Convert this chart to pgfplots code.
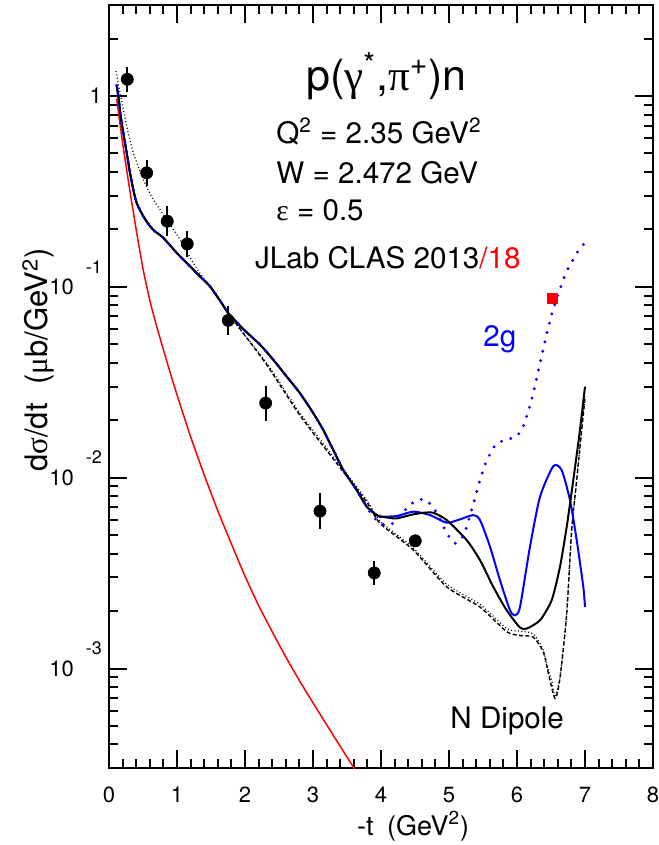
\documentclass[border=0pt]{standalone}
\usepackage{fontspec}
\setmainfont{TeX Gyre Heros}
\newfontfamily\gr{Liberation Serif}
\usepackage{pgfplots}
\pgfplotsset{compat=1.18}
\newcommand{\ex}[1]{10\hspace{6pt}\smash{\raisebox{10.7pt}{\fontsize{9}{9}\selectfont #1}}}
\newcommand{\fs}[1]{\fontsize{#1}{#1}\selectfont}

\pgfplotstableread{
x y
0.113 1.138
0.137 1.0
0.172 0.785
0.21 0.643
0.26 0.505
0.309 0.396
0.357 0.324
0.407 0.2754
0.504 0.2344
0.603 0.208
0.676 0.1954
0.799 0.1807
0.996 0.1507
1.143 0.1334
1.338 0.1135
1.485 0.1007
1.657 0.0822
1.754 0.0729
1.975 0.0601
2.221 0.0498
2.416 0.0415
2.613 0.0339
2.809 0.0277
3.004 0.0218
3.151 0.01778
3.299 0.01397
3.446 0.01096
3.643 0.00861
3.79 0.00705
3.937 0.00637
4.084 0.00619
4.231 0.00612
4.45 0.0064
4.622 0.00655
4.769 0.00655
4.966 0.0060
5.26 0.00471
5.456 0.0037
5.651 0.00268
5.848 0.00202
6.044 0.00164
6.143 0.00162
6.338 0.00179
6.51 0.00228
6.632 0.00341
6.731 0.00553
6.828 0.00973
6.926 0.01778
7.0 0.0300
}\solid

\pgfplotstableread{
x y
0.113 1.138
0.137 1.0
0.172 0.785
0.21 0.643
0.26 0.505
0.309 0.396
0.357 0.324
0.407 0.2754
0.504 0.2344
0.603 0.208
0.676 0.1954
0.799 0.1807
0.996 0.1507
1.143 0.1334
1.338 0.1135
1.485 0.1007
1.657 0.0822
1.754 0.0729
1.975 0.0601
2.221 0.0498
2.416 0.0415
2.613 0.0339
2.809 0.0277
3.004 0.0218
3.151 0.01778
3.299 0.01397
3.446 0.01096
3.643 0.00861
3.79 0.00705
3.937 0.00637
3.985 0.00624
4.231 0.0063
4.475 0.00664
4.721 0.00637
4.966 0.00581
5.162 0.00605
5.357 0.00637
5.456 0.0060
5.603 0.00435
5.75 0.0029
5.897 0.00202
5.971 0.0019
6.044 0.0021
6.191 0.00435
6.338 0.00794
6.534 0.0115
6.657 0.01096
6.779 0.00764
6.878 0.00471
6.975 0.00268
7.0 0.0021
}\bluesolid

\pgfplotstableread{
x y
0.113 1.138
0.137 1.0
0.172 0.785
0.21 0.643
0.26 0.505
0.309 0.396
0.357 0.324
0.407 0.2754
0.504 0.2344
0.603 0.208
0.676 0.1954
0.799 0.1807
0.996 0.1507
1.143 0.1334
1.338 0.1135
1.485 0.1007
1.657 0.0822
1.754 0.0729
1.975 0.0601
2.221 0.0498
2.416 0.0415
2.613 0.0339
2.809 0.0277
3.004 0.0218
3.151 0.01778
3.299 0.01397
3.446 0.01096
3.643 0.00861
3.79 0.00705
3.887 0.00624
4.01 0.00571
4.157 0.00571
4.269 0.00624
4.378 0.0069
4.49 0.00748
4.637 0.00771
4.76 0.00705
4.843 0.0063
4.916 0.00557
4.99 0.00497
5.093 0.00453
5.201 0.0049
5.26 0.00553
5.349 0.0071
5.437 0.00923
5.534 0.0118
5.603 0.0133
5.691 0.01496
5.824 0.01578
5.985 0.0164
6.078 0.01803
6.132 0.0204
6.225 0.02642
6.294 0.0339
6.368 0.0441
6.437 0.0568
6.519 0.0735
6.618 0.0944
6.731 0.1205
6.887 0.1517
6.985 0.168
}\bluedot

\pgfplotstableread{
x y
0.103 1.352
0.162 1.042
0.26 0.697
0.357 0.505
0.504 0.3656
0.651 0.287
0.849 0.2254
1.044 0.177
1.24 0.1334
1.437 0.1047
1.632 0.0857
1.779 0.070
2.319 0.0399
2.809 0.0218
3.299 0.0129
3.79 0.00764
3.985 0.00593
4.475 0.00428
4.966 0.00277
5.456 0.00217
5.848 0.00162
6.044 0.00157
6.24 0.00152
6.387 0.00125
6.46 0.00098
6.51 0.000867
6.559 0.000723
6.632 0.000902
6.731 0.00194
6.804 0.00531
6.878 0.00973
6.951 0.01778
7.0 0.0266
}\blackdot

\pgfplotstableread{
x y
0.113 1.138
0.137 1.0
0.172 0.785
0.21 0.643
0.26 0.505
0.309 0.396
0.357 0.324
0.407 0.2754
0.504 0.2344
0.603 0.208
0.676 0.1954
0.799 0.1807
0.996 0.1507
1.143 0.1334
1.338 0.1135
1.485 0.1007
1.657 0.0822
1.754 0.0729
1.975 0.0571
2.319 0.0391
2.809 0.0212
3.299 0.01253
3.79 0.00745
3.985 0.00577
4.475 0.00418
4.966 0.00268
5.456 0.0021
5.848 0.00156
6.044 0.00149
6.24 0.00146
6.387 0.00122
6.46 0.00095
6.559 0.000697
6.632 0.000887
6.731 0.00194
6.804 0.00531
6.878 0.00973
6.951 0.01778
7.0 0.0262
}\blackdash

\pgfplotstableread{
x y
0.113 0.968
0.2 0.569
0.3 0.331
0.4 0.1995
0.5 0.1245
0.6 0.0851
0.7 0.0624
0.8 0.0468
0.9 0.0355
1.0 0.0272
1.2 0.0164
1.4 0.01035
1.6 0.00671
1.8 0.00450
2.0 0.00305
2.2 0.00214
2.4 0.00156
2.6 0.00115
2.8 0.000865
3.0 0.000661
3.3 0.000446
3.65 0.000283
}\redcurve

\pgfplotstableread{
x y ep em
0.269 1.224 0.200 0.172
0.554 0.396 0.067 0.0576
0.857 0.2208 0.044 0.0366
1.151 0.168 0.0286 0.0244
1.754 0.0667 0.0127 0.0107
2.304 0.0246 0.0058 0.0047
3.103 0.00668 0.00162 0.00131
3.901 0.00317 0.00049 0.00043
4.504 0.00467 0 0
}\datapts

\begin{document}
\begin{tikzpicture}
\begin{axis}[
  at={(0,0)}, anchor=south west,
  scale only axis, width=272pt, height=381.65pt,
  xmin=0, xmax=8, ymode=log, ymin=3e-4, ymax=3,
  axis line style={line width=1pt},
  xtick={0,1,2,3,4,5,6,7,8}, minor x tick num=4,
  ytick={0.001,0.01,0.1,1},
  yticklabels={\ex{-3},\ex{-2},\ex{-1},1\hspace{11.8pt}},
  minor ytick={0.0004,0.0005,0.0006,0.0007,0.0008,0.0009,0.002,0.003,0.004,0.005,0.006,0.007,0.008,0.009,0.02,0.03,0.04,0.05,0.06,0.07,0.08,0.09,0.2,0.3,0.4,0.5,0.6,0.7,0.8,0.9,2},
  tick align=inside, xtick pos=both, ytick pos=both,
  major tick length=9pt, minor tick length=4.5pt,
  every tick/.style={black, line width=1pt},
  ticklabel style={font=\fs{11}},
  xticklabel style={yshift=-6pt},
  /pgf/number format/assume math mode=true,
  xlabel={-t\hspace{0.5em}(GeV\textsuperscript{2})},
  ylabel={d{\gr σ}/dt\hspace{0.6em}({\gr μ}b/GeV\textsuperscript{2})},
  every axis x label/.style={at={([yshift=-33.35pt]rel axis cs:0.559,0)}, anchor=base, font=\fs{13.5}},
  every axis y label/.style={at={([xshift=-30.5pt]rel axis cs:0,0.535)}, rotate=90, anchor=base, font=\fs{15.5}},
]
\addplot[red, line width=0.75pt, smooth, tension=0.4] table {\redcurve};
\addplot[black, line width=0.6pt, smooth, tension=0.4, dash pattern=on 0.5pt off 1.2pt] table {\blackdot};
\addplot[black, line width=0.7pt, smooth, tension=0.4, dash pattern=on 2pt off 1.2pt] table {\blackdash};
\addplot[blue, line width=1pt, smooth, tension=0.4] table {\bluesolid};
\addplot[black, line width=1pt, smooth, tension=0.4] table {\solid};
\addplot[blue, line width=1.6pt, smooth, tension=0.4, line cap=round, dash pattern=on 0pt off 4.8pt] table {\bluedot};
\addplot[only marks, mark=*, mark size=3pt, black,
  error bars/.cd, y dir=both, y explicit, error mark=none,
  error bar style={line width=1pt, black}]
  table[x=x, y=y, y error plus=ep, y error minus=em] {\datapts};
\addplot[only marks, mark=square*, mark size=2.6pt, red] coordinates {(6.52,0.0871)};
\node[anchor=base, inner sep=0pt, font=\fs{21.5}] at (rel axis cs:0.510,0.8886) {p({\gr γ}\textsuperscript{*},{\gr π}\textsuperscript{+})n};
\node[anchor=base west, inner sep=0pt, font=\fs{14.8}] at (rel axis cs:0.307,0.8192) {Q\textsuperscript{2} = 2.35 GeV\textsuperscript{2}};
\node[anchor=base west, inner sep=0pt, font=\fs{14.8}] at (rel axis cs:0.307,0.7656) {W = 2.472 GeV};
\node[anchor=base west, inner sep=0pt, font=\fs{14.8}] at (rel axis cs:0.307,0.7183) {{\gr ε} = 0.5};
\node[anchor=base west, inner sep=0pt, font=\fs{14.8}] at (rel axis cs:0.268,0.6554) {JLab CLAS 2013\textcolor{red}{/18}};
\node[anchor=base west, inner sep=0pt, font=\fs{14.8}, blue] at (rel axis cs:0.6875,0.5532) {2g};
\node[anchor=base west, inner sep=0pt, font=\fs{14.8}] at (rel axis cs:0.627,0.0528) {N Dipole};
\end{axis}
\pgfresetboundingbox
\path[use as bounding box] (-54.5pt,-38.35pt) rectangle (274.85pt,384.15pt);
\end{tikzpicture}
\end{document}
